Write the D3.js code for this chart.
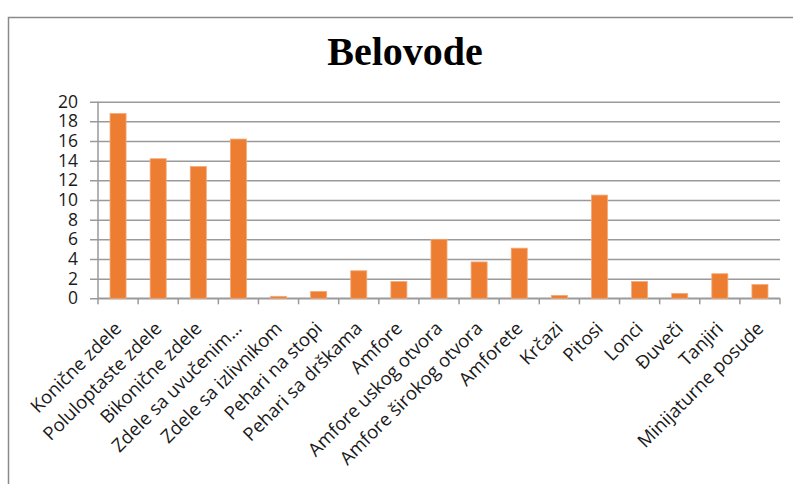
<!DOCTYPE html>
<html>
<head>
<meta charset="utf-8">
<script src="https://cdn.jsdelivr.net/npm/d3@7"></script>
<style>
  html, body { margin: 0; padding: 0; background: #fff; }
  svg { display: block; }
</style>
</head>
<body>
<svg id="chart" width="793" height="484"></svg>
<script>
// Pottery types found at Belovode and their share
const categories = [
  "Konične zdele", "Poluloptaste zdele", "Bikonične zdele", "Zdele sa uvučenim…",
  "Zdele sa izlivnikom", "Pehari na stopi", "Pehari sa drškama", "Amfore",
  "Amfore uskog otvora", "Amfore širokog otvora", "Amforete", "Krčazi",
  "Pitosi", "Lonci", "Đuveči", "Tanjiri", "Minijaturne posude"
];
const values = [18.8, 14.2, 13.4, 16.2, 0.2, 0.7, 2.8, 1.7, 6.0, 3.7, 5.1, 0.3, 10.5, 1.7, 0.5, 2.5, 1.4];
const yTicks = [0, 2, 4, 6, 8, 10, 12, 14, 16, 18, 20];
const title = "Belovode";

const svg = d3.select("#chart");
const plot = { left: 98, right: 780, top: 101.7, bottom: 298.3 };

// chart frame
svg.append("rect")
  .attr("x", 8.5).attr("y", 17.5)
  .attr("width", 800).attr("height", 500)
  .attr("fill", "none").attr("stroke", "#8a8a8a").attr("stroke-width", 1.5);

svg.append("text")
  .attr("x", 405).attr("y", 65)
  .attr("text-anchor", "middle")
  .attr("font-family", "'Liberation Serif', 'Times New Roman', serif")
  .attr("font-weight", "bold")
  .attr("font-size", 40)
  .attr("fill", "#000")
  .text(title);

const x = d3.scaleBand()
  .domain(categories)
  .range([plot.left, plot.right])
  .paddingInner(0.6)
  .paddingOuter(0.3);

const y = d3.scaleLinear().domain([0, 20]).range([plot.bottom, plot.top]);

// horizontal gridlines with outward tick marks
const yAxis = d3.axisLeft(y)
  .tickValues(yTicks)
  .tickSize(-(plot.right - plot.left))
  .tickPadding(20)
  .tickFormat(d3.format("d"));

const gy = svg.append("g")
  .attr("transform", `translate(${plot.left},0)`)
  .call(yAxis);
gy.select(".domain").remove();
gy.selectAll(".tick line")
  .attr("x1", -8)
  .attr("stroke", "#9a9a9a").attr("stroke-width", 1.5);
gy.selectAll(".tick text")
  .attr("font-family", "'Open Sans', sans-serif")
  .attr("font-size", 17.5)
  .attr("fill", "#1a1a1a");

// vertical axis line
svg.append("line")
  .attr("x1", plot.left).attr("x2", plot.left)
  .attr("y1", plot.top).attr("y2", plot.bottom)
  .attr("stroke", "#9a9a9a").attr("stroke-width", 1.5);

// category axis with ticks between categories
const step = x.step();
const boundaries = d3.range(categories.length + 1).map(i => plot.left + i * step);
svg.append("line")
  .attr("x1", plot.left).attr("x2", plot.right)
  .attr("y1", plot.bottom).attr("y2", plot.bottom)
  .attr("stroke", "#9a9a9a").attr("stroke-width", 1.5);
svg.append("g").selectAll("line")
  .data(boundaries)
  .join("line")
  .attr("x1", d => d).attr("x2", d => d)
  .attr("y1", plot.bottom).attr("y2", plot.bottom + 6)
  .attr("stroke", "#9a9a9a").attr("stroke-width", 1.5);

// bars
svg.append("g").selectAll("rect")
  .data(values)
  .join("rect")
  .attr("x", (d, i) => x(categories[i]))
  .attr("width", x.bandwidth())
  .attr("y", d => y(d))
  .attr("height", d => y(0) - y(d))
  .attr("fill", "#ED7D31")
  .attr("stroke", "#F4A97A")
  .attr("stroke-width", 0.8);

// rotated category labels
svg.append("g").selectAll("text")
  .data(categories)
  .join("text")
  .attr("transform", d => `translate(${x(d) + x.bandwidth() / 2},325) rotate(-45)`)
  .attr("text-anchor", "end")
  .attr("dy", "0.35em")
  .attr("font-family", "'Open Sans', sans-serif")
  .attr("font-size", 18.5)
  .attr("fill", "#1a1a1a")
  .text(d => d);
</script>
</body>
</html>
